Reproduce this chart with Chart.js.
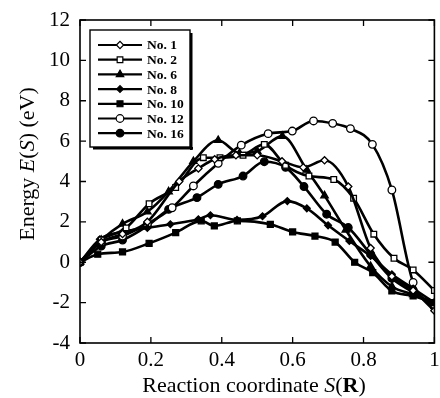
<!DOCTYPE html>
<html>
<head>
<meta charset="utf-8">
<script src="https://cdn.jsdelivr.net/npm/chart.js@4/dist/chart.umd.min.js"></script>
<style>
  html, body { margin: 0; padding: 0; background: #fff; }
  #wrap { width: 440px; height: 398px; }
</style>
</head>
<body>
<div id="wrap"><canvas id="c" width="440" height="398"></canvas></div>
<script>
// series values (x = reaction coordinate, y = energy in eV)
const no1X = [0, 0.06, 0.12, 0.19, 0.28, 0.334, 0.38, 0.44, 0.5, 0.57, 0.63, 0.69, 0.757, 0.82, 0.88, 0.94, 1.0];
const no1Y = [0, 1.0, 1.4, 2.0, 4.0, 4.65, 5.1, 5.3, 5.3, 5.0, 4.7, 5.05, 3.75, 0.7, -0.7, -1.4, -2.4];
const no2X = [0, 0.06, 0.13, 0.195, 0.27, 0.348, 0.395, 0.46, 0.52, 0.58, 0.646, 0.716, 0.772, 0.829, 0.886, 0.94, 1.0];
const no2Y = [0, 1.1, 1.7, 2.9, 3.7, 5.18, 5.18, 5.3, 5.84, 4.8, 4.27, 4.1, 3.17, 1.39, 0.2, -0.38, -1.4];
const no6X = [0, 0.06, 0.12, 0.19, 0.25, 0.32, 0.39, 0.45, 0.5, 0.571, 0.64, 0.69, 0.75, 0.82, 0.88, 0.94, 1.0];
const no6Y = [0, 1.1, 1.9, 2.5, 3.5, 5.0, 6.04, 5.4, 5.5, 6.25, 4.57, 3.3, 1.6, -0.2, -1.2, -1.6, -2.0];
const no8X = [0, 0.056, 0.12, 0.19, 0.255, 0.334, 0.368, 0.443, 0.515, 0.585, 0.64, 0.7, 0.76, 0.82, 0.88, 0.94, 1.0];
const no8Y = [0, 1.14, 1.5, 1.7, 1.88, 2.13, 2.33, 2.1, 2.28, 3.03, 2.67, 1.83, 1.05, 0.31, -0.6, -1.3, -2.0];
const no10X = [0, 0.05, 0.12, 0.195, 0.27, 0.342, 0.379, 0.444, 0.537, 0.6, 0.663, 0.72, 0.775, 0.826, 0.88, 0.94, 1.0];
const no10Y = [0, 0.4, 0.51, 0.94, 1.47, 2.05, 1.8, 2.05, 1.88, 1.5, 1.3, 1.0, 0.0, -0.51, -1.42, -1.67, -2.0];
const no12X = [0, 0.06, 0.12, 0.19, 0.26, 0.32, 0.39, 0.455, 0.531, 0.599, 0.659, 0.713, 0.763, 0.825, 0.88, 0.94, 1.0];
const no12Y = [0, 1.0, 1.3, 1.9, 2.7, 3.78, 4.9, 5.8, 6.37, 6.5, 7.0, 6.88, 6.62, 5.84, 3.58, -1.0, -2.2];
const no16X = [0, 0.06, 0.12, 0.19, 0.25, 0.33, 0.39, 0.46, 0.52, 0.58, 0.632, 0.696, 0.757, 0.82, 0.88, 0.94, 1.0];
const no16Y = [0, 0.8, 1.1, 1.8, 2.62, 3.2, 3.86, 4.27, 4.98, 4.7, 3.75, 2.38, 1.72, 0.4, -0.8, -1.5, -2.2];

const seriesNames = ["No. 1", "No. 2", "No. 6", "No. 8", "No. 10", "No. 12", "No. 16"];
const xTicks = [0, 0.2, 0.4, 0.6, 0.8, 1];
const yTicks = [-4, -2, 0, 2, 4, 6, 8, 10, 12];

const SERIF = '"Liberation Serif", "DejaVu Serif", serif';

function pts(xs, ys) {
    return xs.map((x, i) => ({ x: x, y: ys[i] }));
}

// points, marker style, filled?, radius
const styles = [
    [no1X, no1Y, "rectRot", false, 3.6],
    [no2X, no2Y, "rect", false, 4],
    [no6X, no6Y, "triangle", true, 4.3],
    [no8X, no8Y, "rectRot", true, 3.4],
    [no10X, no10Y, "rect", true, 4.2],
    [no12X, no12Y, "circle", false, 3.8],
    [no16X, no16Y, "circle", true, 3.8]
];

const datasets = styles.map((s, i) => ({
    label: seriesNames[i],
    data: pts(s[0], s[1]),
    borderColor: "#000",
    borderWidth: 2.6,
    pointStyle: s[2],
    pointRadius: s[4],
    pointBorderWidth: 1.3,
    pointBorderColor: "#000",
    pointBackgroundColor: s[3] ? "#000" : "#fff",
    cubicInterpolationMode: "monotone",
    fill: false
}));

// frame, inward ticks, axis titles and the boxed legend
const decor = {
    id: "decor",
    afterDraw(chart) {
        const ctx = chart.ctx;
        const a = chart.chartArea;
        const xs = chart.scales.x, ys = chart.scales.y;
        ctx.save();
        ctx.strokeStyle = "#000";
        ctx.lineWidth = 1.6;
        ctx.strokeRect(a.left, a.top, a.right - a.left, a.bottom - a.top);

        ctx.lineWidth = 1.3;
        ctx.beginPath();
        xTicks.forEach(v => {
            const p = xs.getPixelForValue(v);
            ctx.moveTo(p, a.bottom); ctx.lineTo(p, a.bottom - 6);
            ctx.moveTo(p, a.top); ctx.lineTo(p, a.top + 6);
        });
        yTicks.forEach(v => {
            const p = ys.getPixelForValue(v);
            ctx.moveTo(a.left, p); ctx.lineTo(a.left + 6, p);
            ctx.moveTo(a.right, p); ctx.lineTo(a.right - 6, p);
        });
        ctx.stroke();

        // axis titles with mixed styles
        ctx.fillStyle = "#000";
        ctx.textBaseline = "middle";
        function runs(parts, cx, cy) {
            let w = 0;
            parts.forEach(p => { ctx.font = p[1] + " 22px " + SERIF; w += ctx.measureText(p[0]).width; });
            let x = cx - w / 2;
            ctx.textAlign = "left";
            parts.forEach(p => {
                ctx.font = p[1] + " 22px " + SERIF;
                ctx.fillText(p[0], x, cy);
                x += ctx.measureText(p[0]).width;
            });
        }
        runs([["Reaction coordinate ", "normal"], ["S", "italic"], ["(", "normal"], ["R", "bold"], [")", "normal"]],
             254, 386);
        ctx.save();
        ctx.translate(28, 164);
        ctx.rotate(-Math.PI / 2);
        runs([["Energy ", "normal"], ["E", "italic"], ["(", "normal"], ["S", "italic"], [") (eV)", "normal"]], 0, 0);
        ctx.restore();

        // legend box
        const lx = a.left + 10, ly = a.top + 10, lw = 100, lh = 117;
        ctx.fillStyle = "#fff";
        ctx.fillRect(lx, ly, lw, lh);
        ctx.fillStyle = "#000";
        ctx.fillRect(lx + 3, ly + lh, lw, 2.5);
        ctx.fillRect(lx + lw, ly + 3, 2.5, lh);
        ctx.lineWidth = 1.4;
        ctx.strokeRect(lx, ly, lw, lh);
        chart.data.datasets.forEach((ds, i) => {
            const y = ly + 15 + i * 14.7;
            ctx.lineWidth = 2.2;
            ctx.strokeStyle = "#000";
            ctx.beginPath();
            ctx.moveTo(lx + 8, y); ctx.lineTo(lx + 52, y);
            ctx.stroke();
            ctx.lineWidth = 1.2;
            ctx.fillStyle = ds.pointBackgroundColor;
            Chart.helpers.drawPoint(ctx, {
                pointStyle: ds.pointStyle, radius: ds.pointRadius, rotation: 0, borderWidth: 1.2
            }, lx + 30, y);
            ctx.fillStyle = "#000";
            ctx.font = "bold 13.5px " + SERIF;
            ctx.textAlign = "left";
            ctx.fillText(ds.label, lx + 57, y + 1);
        });
        ctx.restore();
    }
};

new Chart(document.getElementById("c"), {
    type: "line",
    data: { datasets: datasets },
    options: {
        responsive: false,
        animation: false,
        layout: { padding: { left: 0, right: 2, top: 20, bottom: 0 } },
        plugins: { legend: { display: false }, tooltip: { enabled: false } },
        scales: {
            x: {
                type: "linear", min: 0, max: 1,
                grid: { display: false, drawTicks: false },
                border: { display: false },
                afterBuildTicks: s => { s.ticks = xTicks.map(v => ({ value: v })); },
                afterFit: s => { s.height = 55; s.paddingLeft = 0; s.paddingRight = 0; },
                ticks: {
                    color: "#000", padding: 5, maxRotation: 0, autoSkip: false,
                    font: { family: SERIF, size: 21 },
                    callback: v => String(v)
                }
            },
            y: {
                min: -4, max: 12,
                grid: { display: false, drawTicks: false },
                border: { display: false },
                afterBuildTicks: s => { s.ticks = yTicks.map(v => ({ value: v })); },
                afterFit: s => { s.width = 80; s.paddingTop = 0; s.paddingBottom = 0; },
                ticks: {
                    color: "#000", padding: 10,
                    font: { family: SERIF, size: 21 },
                    callback: v => String(v)
                }
            }
        }
    },
    plugins: [decor]
});
</script>
</body>
</html>
